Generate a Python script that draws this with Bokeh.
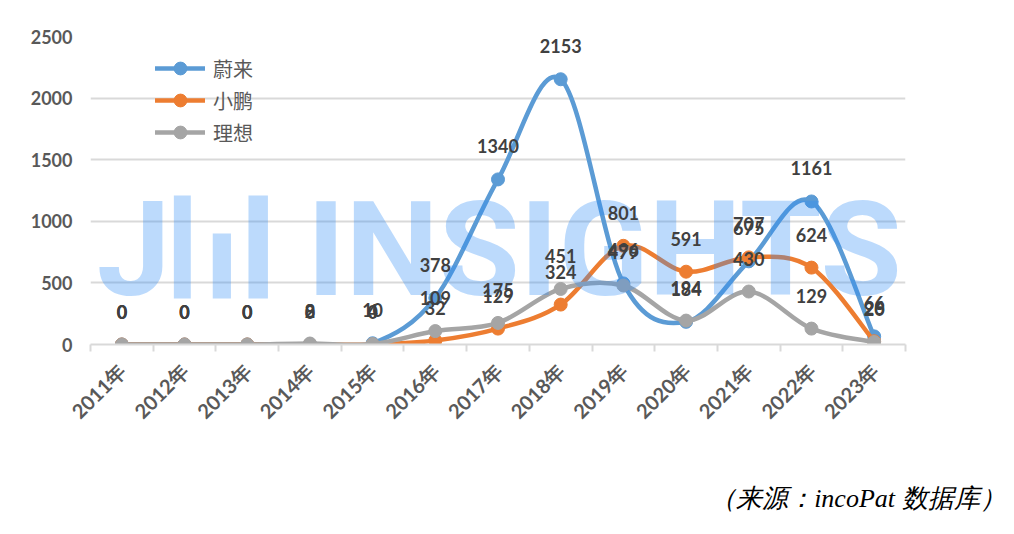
import math
import numpy as np
from bokeh.plotting import figure
from bokeh.models import (Range1d, FixedTicker, Legend, LegendItem, Label,
                          BoxAnnotation, Title)
from bokeh.core.properties import value
from bokeh.embed import file_html
from bokeh.resources import INLINE

# data
years = ["2011年", "2012年", "2013年", "2014年", "2015年", "2016年", "2017年",
         "2018年", "2019年", "2020年", "2021年", "2022年", "2023年"]
nio = [0, 0, 0, 2, 10, 378, 1340, 2153, 496, 184, 675, 1161, 66]
xpeng = [0, 0, 0, 0, 0, 32, 129, 324, 801, 591, 707, 624, 26]
li = [0, 0, 0, 8, 4, 109, 175, 451, 479, 194, 430, 129, 20]
y_ticks = [0, 500, 1000, 1500, 2000, 2500]

names = ["蔚来", "小鹏", "理想"]
colors = ["#5b9bd5", "#ed7d31", "#a5a5a5"]

TXT = "#595959"
NUM_FONT = "Lato"


def smooth(y):
    # excel-like smoothed line: one cubic bezier per segment
    x = np.arange(len(y), dtype=float)
    y = np.asarray(y, dtype=float)
    n = len(y)
    px = np.concatenate([[x[0]], x, [x[-1]]])
    py = np.concatenate([[y[0]], y, [y[-1]]])
    return dict(
        x0=x[:-1], y0=y[:-1], x1=x[1:], y1=y[1:],
        cx0=x[:-1] + (px[2:n + 1] - px[0:n - 1]) / 6,
        cy0=y[:-1] + (py[2:n + 1] - py[0:n - 1]) / 6,
        cx1=x[1:] - (px[3:n + 2] - px[1:n]) / 6,
        cy1=y[1:] - (py[3:n + 2] - py[1:n]) / 6,
    )


p = figure(width=1006, height=526, output_backend="svg", toolbar_location=None,
           x_range=Range1d(-0.5, len(years) - 0.5), y_range=Range1d(0, 2500),
           min_border_left=90, min_border_right=101, min_border_top=36,
           min_border_bottom=182)
p.outline_line_color = None
p.background_fill_color = "white"
p.border_fill_color = "white"

# axes
p.xaxis.ticker = FixedTicker(ticks=list(range(len(years))),
                             minor_ticks=[i - 0.5 for i in range(len(years) + 1)])
p.xaxis.major_label_overrides = {i: t for i, t in enumerate(years)}
p.xaxis.major_label_orientation = math.pi / 4
p.xaxis.major_tick_line_color = None
p.xaxis.minor_tick_out = 7
p.xaxis.minor_tick_in = 0
p.xaxis.minor_tick_line_color = "#d9d9d9"
p.xaxis.minor_tick_line_width = 2
p.xaxis.axis_line_color = "#d9d9d9"
p.xaxis.axis_line_width = 2
p.xaxis.major_label_standoff = 16
p.xaxis.major_label_text_font = NUM_FONT
p.xaxis.major_label_text_font_style = "bold"
p.xaxis.major_label_text_font_size = "20px"
p.xaxis.major_label_text_color = TXT

p.yaxis.ticker = FixedTicker(ticks=y_ticks)
p.yaxis.axis_line_color = None
p.yaxis.major_tick_line_color = None
p.yaxis.minor_tick_line_color = None
p.yaxis.major_label_standoff = 12
p.yaxis.major_label_text_font = NUM_FONT
p.yaxis.major_label_text_font_style = "bold"
p.yaxis.major_label_text_font_size = "18px"
p.yaxis.major_label_text_color = TXT

p.xgrid.grid_line_color = None
p.ygrid.grid_line_color = "#d9d9d9"
p.ygrid.grid_line_width = 2

# series
items = []
xs = list(range(len(years)))
for name, vals, col in zip(names, [nio, xpeng, li], colors):
    b = p.bezier(line_color=col, line_width=4.5, line_cap="round",
                 **smooth(vals))
    s = p.scatter(xs, vals, size=13, fill_color=col, line_color=col)
    items.append(LegendItem(label=name, renderers=[b, s]))

# watermark over the lines
wm = dict(text_color="#2f8cf7", text_alpha=0.32, text_font_style="bold",
          text_font="Roboto", text_font_size="132px", text_baseline="bottom")
p.add_layout(Label(x=-0.4, y=146, text="J", **wm))
p.add_layout(Label(x=2.95, y=146, text="INSIGHTS", **wm))
for l, r, t in [(0.83, 1.10, 1209), (1.45, 1.74, 901), (2.02, 2.33, 1209)]:
    p.add_layout(BoxAnnotation(left=l, right=r, bottom=373, top=t,
                               fill_color="#2f8cf7", fill_alpha=0.32,
                               line_color=None))

# data labels
for vals in [nio, xpeng, li]:
    p.text(xs, vals, text=[str(v) for v in vals], text_align="center",
           text_baseline="middle", y_offset=-33, text_color="#404040",
           text_font=value(NUM_FONT), text_font_style="bold",
           text_font_size="18px", level="overlay")

legend = Legend(items=items, location=(65, 196), orientation="vertical",
                glyph_width=50, glyph_height=32, spacing=0, padding=0,
                margin=0, label_standoff=8, label_text_font_size="20px",
                label_text_color=TXT, label_text_font="Noto Sans CJK SC",
                border_line_color=None, background_fill_alpha=0)
p.add_layout(legend)

# source note below the axis (spacer title pushes it down)
p.add_layout(Title(text=" ", text_font_size="26px"), "below")
p.add_layout(Title(text="（来源：incoPat 数据库）", align="right", offset=-100,
                   text_font="Liberation Serif", text_font_style="italic",
                   text_font_size="26px", text_color="black"), "below")

open("out.html", "w").write(file_html(p, INLINE))
